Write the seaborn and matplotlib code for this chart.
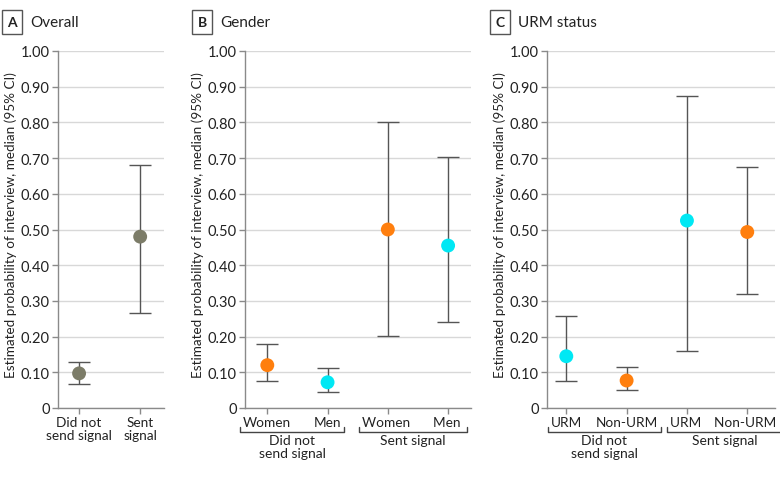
import numpy as np
import pandas as pd
import matplotlib
matplotlib.use("Agg")
import matplotlib.pyplot as plt
import seaborn as sns

# ---------------- data ----------------
a_cats = ["Did not\nsend signal", "Sent\nsignal"]
a_med = [0.097, 0.480]
a_lo = [0.067, 0.267]
a_hi = [0.130, 0.680]
a_grp = ["All", "All"]

b_cats = ["Women", "Men", "Women ", "Men "]
b_med = [0.120, 0.072, 0.500, 0.455]
b_lo = [0.077, 0.045, 0.203, 0.242]
b_hi = [0.180, 0.113, 0.800, 0.703]
b_grp = ["Women", "Men", "Women", "Men"]

c_cats = ["URM", "Non-URM", "URM ", "Non-URM "]
c_med = [0.145, 0.077, 0.525, 0.493]
c_lo = [0.077, 0.050, 0.160, 0.320]
c_hi = [0.258, 0.115, 0.873, 0.675]
c_grp = ["URM", "Non-URM", "URM", "Non-URM"]

group_labels = ["Did not\nsend signal", "Sent signal"]
yticks = [0, 0.1, 0.2, 0.3, 0.4, 0.5, 0.6, 0.7, 0.8, 0.9, 1.0]
ytick_labels = ["0"] + [f"{v:.2f}" for v in yticks[1:]]

palette = {"All": "#7c7c68", "Women": "#ff7f0e", "Men": "#00e8f4",
           "URM": "#00e8f4", "Non-URM": "#ff7f0e"}

sns.set_theme(style="white")
plt.rcParams["font.family"] = ["Lato", "DejaVu Sans"]
plt.rcParams["font.size"] = 10

W, H = 780, 485
fig = plt.figure(figsize=(W / 100, H / 100), dpi=100)

def fx(px):
    return px / W

def fy(py):
    return 1 - py / H

bottom_px, top_px = 409, 52
panels = [
    dict(l=58, r=164, cats=a_cats, med=a_med, lo=a_lo, hi=a_hi, grp=a_grp,
         xlim=(-0.345, 1.39), letter="A", title="Overall", box=2, groups=False,
         ylab_x=11),
    dict(l=245, r=471, cats=b_cats, med=b_med, lo=b_lo, hi=b_hi, grp=b_grp,
         xlim=(-0.37, 3.38), letter="B", title="Gender", box=192, groups=True,
         ylab_x=198),
    dict(l=547, r=775, cats=c_cats, med=c_med, lo=c_lo, hi=c_hi, grp=c_grp,
         xlim=(-0.32, 3.46), letter="C", title="URM status", box=490, groups=True,
         ylab_x=500),
]

TXT = "#222222"
axes = []
for p in panels:
    ax = fig.add_axes([fx(p["l"]), fy(bottom_px), fx(p["r"] - p["l"]),
                       (bottom_px - top_px) / H])
    axes.append(ax)
    df = pd.DataFrame({"cat": p["cats"], "med": p["med"], "lo": p["lo"],
                       "hi": p["hi"], "grp": p["grp"]})
    x = np.arange(len(df))
    ax.errorbar(x, df["med"], yerr=[df["med"] - df["lo"], df["hi"] - df["med"]],
                fmt="none", ecolor="#555555", elinewidth=1.0, capsize=8,
                capthick=1.0, zorder=2)
    sns.scatterplot(data=df.assign(x=x), x="x", y="med", hue="grp",
                    palette=palette, s=100, edgecolor="none", legend=False,
                    ax=ax, zorder=3)
    ax.set_xlim(*p["xlim"])
    ax.set_ylim(0, 1.0)
    ax.set_yticks(yticks)
    ax.set_yticklabels(ytick_labels, fontsize=10.5, color=TXT)
    ax.set_xticks(x)
    ax.set_xticklabels(p["cats"], fontsize=9.8, color=TXT, linespacing=1.1)
    ax.set_xlabel("")
    ax.set_ylabel("Estimated probability of interview, median (95% CI)",
                  fontsize=9.7, color=TXT)
    ax.yaxis.label.set_va("center")
    ax.yaxis.set_label_coords((p["ylab_x"] - p["l"]) / (p["r"] - p["l"]),
                              (bottom_px - 225) / (bottom_px - top_px))
    ax.yaxis.grid(True, color="#d8d8d8", linewidth=1.0)
    ax.set_axisbelow(True)
    for s in ["top", "right"]:
        ax.spines[s].set_visible(False)
    for s in ["left", "bottom"]:
        ax.spines[s].set_color("#8a8a8a")
        ax.spines[s].set_linewidth(1.0)
    ax.tick_params(axis="both", which="major", length=4, width=1.0,
                   color="#8a8a8a", pad=2, bottom=True, left=True)
    # panel title
    fig.text(fx(p["box"] + 10), fy(23), p["letter"], ha="center", va="center",
             fontsize=10, fontweight="bold", color=TXT,
             bbox=dict(boxstyle="square,pad=0.4", fc="white", ec="#555555", lw=1))
    fig.text(fx(p["box"] + 28), fy(23), p["title"], ha="left", va="center",
             fontsize=11, color=TXT)

fig.canvas.draw()
renderer = fig.canvas.get_renderer()
for p, ax in zip(panels, axes):
    if not p["groups"]:
        continue
    labels = ax.get_xticklabels()
    inv = ax.transData.inverted()
    trans = matplotlib.transforms.blended_transform_factory(ax.transData, ax.transAxes)
    for gi, pair in enumerate([(0, 1), (2, 3)]):
        bb0 = labels[pair[0]].get_window_extent(renderer)
        bb1 = labels[pair[1]].get_window_extent(renderer)
        x0 = inv.transform((bb0.x0 - 3, 0))[0]
        x1 = inv.transform((bb1.x1 + 3, 0))[0]
        ybar = (bottom_px - 433) / (bottom_px - top_px)
        yup = (bottom_px - 428) / (bottom_px - top_px)
        ax.plot([x0, x0, x1, x1], [yup, ybar, ybar, yup], color="#444444",
                lw=1.0, transform=trans, clip_on=False)
        ax.text((x0 + x1) / 2, (bottom_px - 435) / (bottom_px - top_px),
                group_labels[gi], ha="center", va="top", fontsize=10,
                color=TXT, transform=trans, linespacing=1.1)

fig.savefig("out.png", dpi=100, facecolor="white")
